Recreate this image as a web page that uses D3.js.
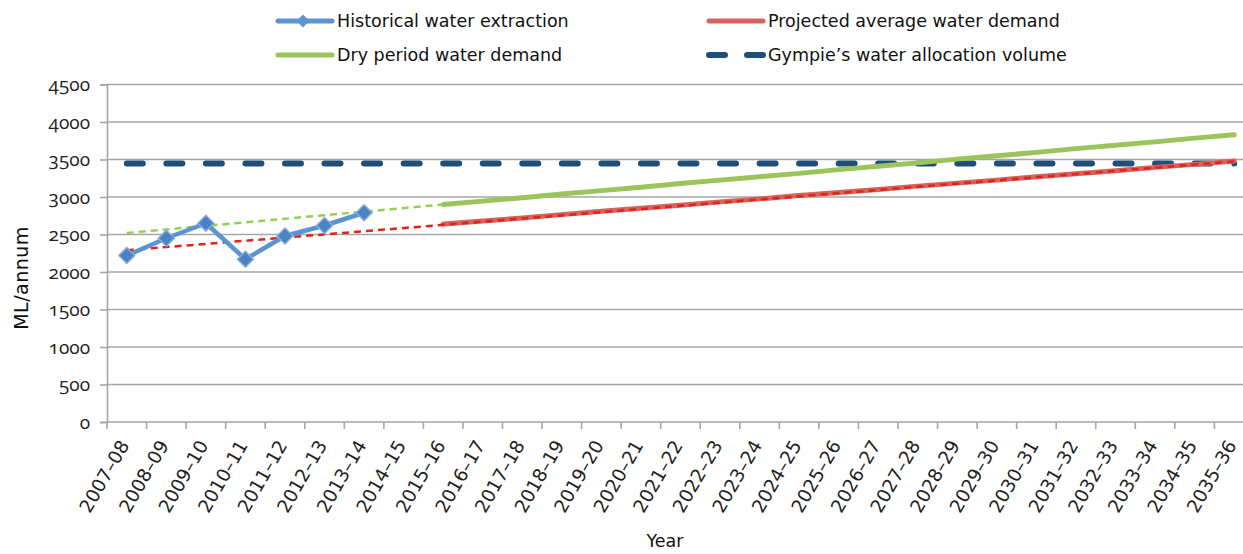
<!DOCTYPE html>
<html>
<head>
<meta charset="utf-8">
<script src="https://cdn.jsdelivr.net/npm/d3@7/dist/d3.min.js"></script>
<style>
  body { margin: 0; background: #fff; }
  svg { display: block; }
  .num { font-family: "Open Sans", "Noto Sans", sans-serif; font-feature-settings: "onum" 1; font-variant-numeric: oldstyle-nums; font-size: 19px; fill: #222; }
  .xl { font-family: "DejaVu Sans", sans-serif; font-size: 18.5px; fill: #222; }
  .lbl { font-family: "DejaVu Sans", sans-serif; font-size: 17.5px; fill: #111; }
</style>
</head>
<body>
<svg id="chart" width="1243" height="554"></svg>
<script>
var years = ['2007–08','2008–09','2009–10','2010–11','2011–12','2012–13','2013–14','2014–15',
  '2015–16','2016–17','2017–18','2018–19','2019–20','2020–21','2021–22','2022–23','2023–24',
  '2024–25','2025–26','2026–27','2027–28','2028–29','2029–30','2030–31','2031–32','2032–33',
  '2033–34','2034–35','2035–36'];

var yTicks = [0, 500, 1000, 1500, 2000, 2500, 3000, 3500, 4000, 4500];

// historical extraction, 2007-08 .. 2013-14
var historical = [2220, 2450, 2650, 2170, 2480, 2620, 2790];

// projections, 2015-16 .. 2035-36
var projYears = years.slice(8);
var avgDemand = [2640, 2680, 2720, 2765, 2810, 2850, 2890, 2935, 2975, 3020, 3060,
  3100, 3145, 3185, 3225, 3270, 3310, 3350, 3395, 3435, 3480];
var dryDemand = [2900, 2945, 2990, 3040, 3085, 3130, 3180, 3225, 3270, 3315, 3365,
  3410, 3455, 3505, 3550, 3595, 3645, 3690, 3735, 3785, 3830];

var allocation = 3460;

// dashed trend lines [start, end]
var avgTrend = { from: '2007–08', to: '2035–36', values: [2290, 3475] };
var dryTrend = { from: '2007–08', to: '2015–16', values: [2520, 2900] };

var svg = d3.select('#chart');

var x = d3.scaleBand().domain(years).range([107, 107 + 29 * 39.55]).padding(0);
var y = d3.scaleLinear().domain([0, 4500]).range([422, 84.5]);
var cx = function(c) { return x(c) + x.bandwidth() / 2 };

// gridlines
svg.append('g').selectAll('line')
  .data(yTicks.slice(1))
  .enter().append('line')
    .attr('x1', 107).attr('x2', 1243)
    .attr('y1', function(d) { return y(d) }).attr('y2', function(d) { return y(d) })
    .attr('stroke', '#a6a6a6').attr('stroke-width', 1.6);

// y axis
var yAxis = svg.append('g')
  .attr('transform', 'translate(107,0)')
  .call(d3.axisLeft(y).tickValues(yTicks).tickFormat(d3.format('d')).tickSize(7).tickPadding(10));
yAxis.select('.domain').attr('stroke', '#a6a6a6').attr('stroke-width', 1.6);
yAxis.selectAll('.tick line').attr('stroke', '#a6a6a6').attr('stroke-width', 1.6);
yAxis.selectAll('text').attr('class', 'num').attr('font-family', null).attr('font-size', null);

// x axis
var xAxis = svg.append('g').attr('transform', 'translate(0,' + y(0) + ')');
xAxis.append('line')
  .attr('x1', 107).attr('x2', 1243)
  .attr('stroke', '#a6a6a6').attr('stroke-width', 1.6);
xAxis.selectAll('.xt')
  .data(years)
  .enter().append('line')
    .attr('class', 'xt')
    .attr('x1', function(d) { return x(d) }).attr('x2', function(d) { return x(d) })
    .attr('y1', 0).attr('y2', 7)
    .attr('stroke', '#a6a6a6').attr('stroke-width', 1.6);
xAxis.selectAll('.xl')
  .data(years)
  .enter().append('text')
    .attr('class', 'xl')
    .attr('text-anchor', 'end')
    .attr('transform', function(d) { return 'translate(' + (cx(d) + 3) + ',23) rotate(-60)' })
    .text(function(d) { return d });

// axis titles
svg.append('text').attr('class', 'lbl')
  .attr('x', 665).attr('y', 547).attr('text-anchor', 'middle')
  .text('Year');
svg.append('text').attr('class', 'lbl')
  .attr('transform', 'translate(28,278) rotate(-90)')
  .attr('text-anchor', 'middle')
  .style('font-size', '19px').style('letter-spacing', '0.5px')
  .text('ML/annum');

var line = d3.line().x(function(d) { return cx(d[0]) }).y(function(d) { return y(d[1]) });

// allocation
svg.append('path')
  .datum([[years[0], allocation], [years[years.length - 1], allocation]])
  .attr('d', line)
  .attr('fill', 'none').attr('stroke', '#1f4e79').attr('stroke-width', 6)
  .attr('stroke-linecap', 'round').attr('stroke-dasharray', '16,23.55')
  .attr('transform', 'translate(0,1)');

// projected lines
svg.append('path')
  .datum(d3.zip(projYears, dryDemand))
  .attr('d', line)
  .attr('fill', 'none').attr('stroke', '#9bc45a').attr('stroke-width', 5)
  .attr('stroke-linecap', 'round');
svg.append('path')
  .datum(d3.zip(projYears, avgDemand))
  .attr('d', line)
  .attr('fill', 'none').attr('stroke', '#d6625b').attr('stroke-width', 5)
  .attr('stroke-linecap', 'round');

// trend lines
svg.append('path')
  .datum([[dryTrend.from, dryTrend.values[0]], [dryTrend.to, dryTrend.values[1]]])
  .attr('d', line)
  .attr('fill', 'none').attr('stroke', '#92d050').attr('stroke-width', 2.5)
  .attr('stroke-dasharray', '7,5');
svg.append('path')
  .datum([[avgTrend.from, avgTrend.values[0]], [avgTrend.to, avgTrend.values[1]]])
  .attr('d', line)
  .attr('fill', 'none').attr('stroke', '#e2231a').attr('stroke-width', 2.5)
  .attr('stroke-dasharray', '7,5');

// historical
var hist = d3.zip(years.slice(0, historical.length), historical);
svg.append('path')
  .datum(hist)
  .attr('d', line)
  .attr('fill', 'none').attr('stroke', '#5b93d3').attr('stroke-width', 4.5)
  .attr('stroke-linejoin', 'round');
svg.append('g').selectAll('path')
  .data(hist)
  .enter().append('path')
    .attr('d', d3.symbol().type(d3.symbolDiamond2).size(160))
    .attr('transform', function(d) { return 'translate(' + cx(d[0]) + ',' + y(d[1]) + ')' })
    .attr('fill', '#4a82c6').attr('stroke', '#86acdc').attr('stroke-width', 1.5);

// legend
var legend = [
  { name: 'Historical water extraction', color: '#5b93d3', x: 276, y: 21, type: 'marker' },
  { name: 'Projected average water demand', color: '#d6625b', x: 707, y: 21, type: 'line' },
  { name: 'Dry period water demand', color: '#9bc45a', x: 276, y: 55, type: 'line' },
  { name: 'Gympie’s water allocation volume', color: '#1f4e79', x: 707, y: 55, type: 'dash' }
];
var lg = svg.append('g').selectAll('g')
  .data(legend)
  .enter().append('g')
    .attr('transform', function(d) { return 'translate(' + d.x + ',' + d.y + ')' });
lg.append('line')
  .attr('x1', 2).attr('x2', 56)
  .attr('stroke', function(d) { return d.color })
  .attr('stroke-width', function(d) { return d.type == 'dash' ? 6 : 5 })
  .attr('stroke-linecap', 'round')
  .attr('stroke-dasharray', function(d) { return d.type == 'dash' ? '16,22' : null });
lg.filter(function(d) { return d.type == 'marker' })
  .append('path')
    .attr('d', d3.symbol().type(d3.symbolDiamond2).size(110))
    .attr('transform', 'translate(27,0)')
    .attr('fill', function(d) { return d.color });
lg.append('text').attr('class', 'lbl')
  .attr('x', 61).attr('dy', '0.35em')
  .text(function(d) { return d.name });
</script>
</body>
</html>
